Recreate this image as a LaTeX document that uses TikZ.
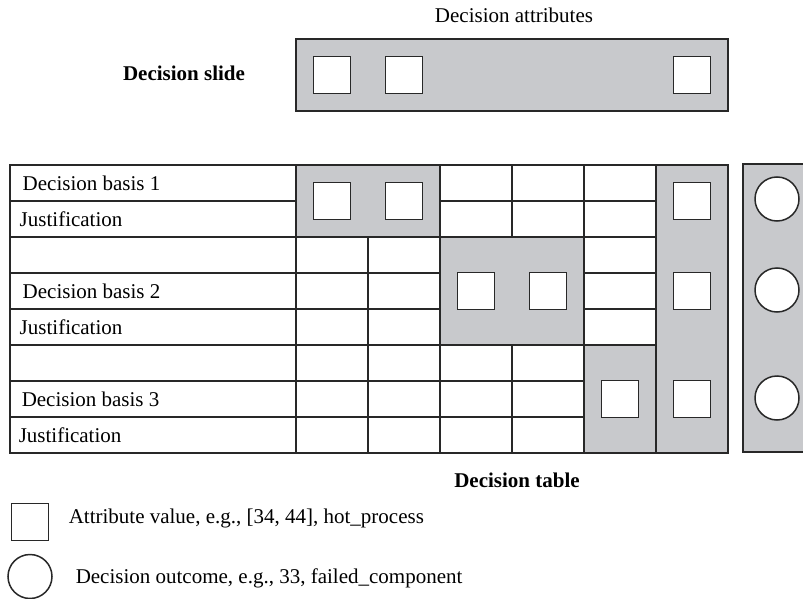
\documentclass[tikz,border=0pt]{standalone}
\usepackage{fontspec}
\setmainfont{Liberation Serif}
\definecolor{fillgray}{RGB}{200,201,204}
\definecolor{linegray}{RGB}{40,40,40}
\begin{document}
\begin{tikzpicture}[x=1pt,y=-1pt,
  line width=1.5pt,
  gridline/.style={draw=linegray,line width=1.5pt},
  grayblock/.style={draw=linegray,fill=fillgray,line width=1.5pt},
  attr/.style={rectangle,draw=linegray,fill=white,minimum width=37pt,minimum height=37pt,inner sep=0pt,line width=1.5pt},
  outc/.style={circle,draw=linegray,fill=white,minimum size=44pt,inner sep=0pt,line width=1.5pt},
  legcirc/.style={circle,draw=linegray,fill=white,minimum size=44pt,inner sep=0pt,line width=1.5pt},
  txt/.style={font=\fontsize{21}{25}\selectfont,inner sep=0pt,text=black},
  btxt/.style={font=\fontsize{21}{25}\selectfont\bfseries,inner sep=0pt,text=black},
  rowlbl/.style={txt,anchor=base west}
]
\useasboundingbox (0,0) rectangle (803,599);
\clip (0,0) rectangle (803,599);

% ---------- Decision slide ----------
\node[txt] (attrtitle) at (514,15) {Decision attributes};
\node[btxt] (slidelbl) at (184,73) {Decision slide};
\draw[grayblock] (296,39) rectangle (728,111);
\node[attr] (s1) at (332,75) {};
\node[attr] (s2) at (404,75) {};
\node[attr] (s3) at (692,75) {};

% ---------- Decision table grid ----------
\draw[gridline] (10,165) rectangle (728,453);
\foreach \yy in {201,237,273,309,345,381,417}
  \draw[gridline] (10,\yy) -- (656,\yy);
\foreach \xx in {296,368,440,512,584,656}
  \draw[gridline] (\xx,165) -- (\xx,453);

% gray blocks
\draw[grayblock] (296,165) rectangle (440,237);
\draw[grayblock] (440,237) rectangle (584,345);
\draw[grayblock] (584,345) rectangle (656,453);
\draw[grayblock] (656,165) rectangle (728,453);
\draw[grayblock] (743,164) rectangle (815,452);

% attribute values
\node[attr] (a11) at (332,201) {};
\node[attr] (a12) at (404,201) {};
\node[attr] (a21) at (476,291) {};
\node[attr] (a22) at (548,291) {};
\node[attr] (a31) at (620,399) {};
\node[attr] (c1) at (692,201) {};
\node[attr] (c2) at (692,291) {};
\node[attr] (c3) at (692,399) {};

% outcomes
\node[outc] (o1) at (777,199) {};
\node[outc] (o2) at (777,290) {};
\node[outc] (o3) at (777,398) {};

% row labels
\node[rowlbl] (db1) at (22,190.5) {Decision basis 1};
\node[rowlbl] (j1) at (19,226.5) {Justification};
\node[rowlbl] (db2) at (22,298.5) {Decision basis 2};
\node[rowlbl] (j2) at (19,334.5) {Justification};
\node[rowlbl] (db3) at (21,406.5) {Decision basis 3};
\node[rowlbl] (j3) at (18,442.5) {Justification};

\node[btxt] (tablelbl) at (517,480) {Decision table};

% ---------- Legend ----------
\node[attr] (legsq) at (30,522) {};
\node[rowlbl] (legsqtxt) at (68,523.5) {Attribute value, e.g., [34, 44], hot\_process};
\node[legcirc] (legci) at (30,576.5) {};
\node[rowlbl] (legcitxt) at (75,583) {Decision outcome, e.g., 33, failed\_component};
\end{tikzpicture}
\end{document}
